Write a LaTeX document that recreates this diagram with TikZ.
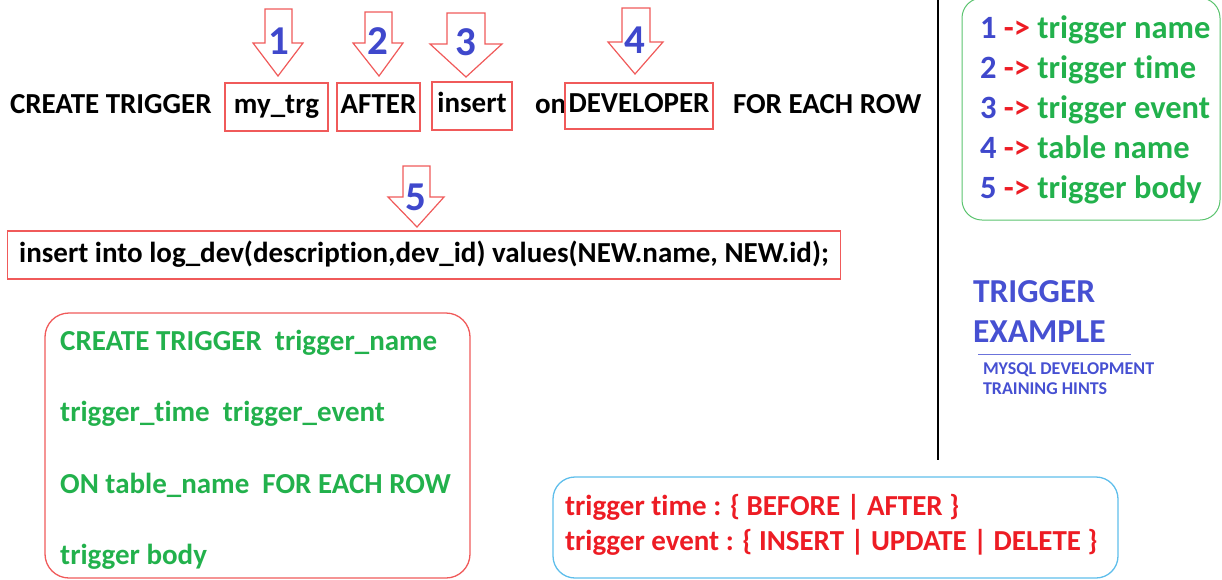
\documentclass[tikz,border=0pt]{standalone}
\usepackage{fontspec}
\setmainfont[Ligatures=NoCommon]{Carlito}
\definecolor{numblue}{RGB}{63,72,204}
\definecolor{hintred}{RGB}{237,28,36}
\definecolor{hintgreen}{RGB}{34,177,76}
\definecolor{boxred}{RGB}{240,90,90}
\definecolor{boxblue}{RGB}{95,190,235}
\definecolor{boxgreen}{RGB}{90,195,110}
\definecolor{titleblue}{RGB}{70,80,210}
\begin{document}
\begin{tikzpicture}[x=1pt,y=-1pt,
  every node/.style={inner sep=0pt,outer sep=0pt,font=\fontsize{29}{34}\selectfont\bfseries},
  plain/.style={anchor=base west},
  keybox/.style={draw=boxred,line width=1.3pt,text height=17pt,text depth=5pt,minimum height=48pt},
  pointer/.style={draw=boxred,fill=white,line width=1.2pt,line join=miter},
  num/.style={text=numblue,font=\fontsize{41}{44}\selectfont\bfseries},
  roundbox/.style={rounded corners=24pt,line width=1.3pt},
  legend/.style={anchor=base west,font=\fontsize{29}{34}\selectfont\bfseries},
  keylegend/.style={anchor=base west,font=\fontsize{32.5}{36}\selectfont\bfseries},
  title/.style={anchor=base west,text=titleblue,font=\fontsize{33.5}{38}\selectfont\bfseries},
  subtitle/.style={anchor=base west,text=titleblue,font=\fontsize{18}{21}\selectfont\bfseries}
]
\useasboundingbox (0,0) rectangle (1222,579);

% ---- statement header ----
\node[plain] (create) at (10,113) {CREATE TRIGGER};
\node[keybox,minimum width=103pt] (name)  at (276.5,107) {my\_trg};
\node[keybox,minimum width=83pt]  (time)  at (378.5,107) {AFTER};
\node[keybox,minimum width=80pt]  (event) at (472,106) {insert};
\node[plain] (on) at (535,113) {on};
\node[keybox,minimum width=148pt,minimum height=46pt] (table) at (639,106) {DEVELOPER};
\node[plain] (each) at (733,113) {FOR EACH ROW};

% ---- numbered pointers ----
\draw[pointer] (265,9) -- (292,9) -- (292,43) -- (303,43) -- (278,76) -- (253,43) -- (265,43) -- cycle;
\node[num] (n1) at (279,41) {1};
\draw[pointer] (365,12) -- (392,12) -- (392,43) -- (403,43) -- (379,76) -- (353,43) -- (365,43) -- cycle;
\node[num] (n2) at (378,41) {2};
\draw[pointer] (447,13) -- (485,13) -- (485,44) -- (502,44) -- (466,77) -- (430,44) -- (447,44) -- cycle;
\node[num] (n3) at (466,42) {3};
\draw[pointer] (622,8) -- (650,8) -- (650,42) -- (663,42) -- (635,74) -- (608,42) -- (622,42) -- cycle;
\node[num] (n4) at (635,40) {4};

% ---- trigger body ----
\node[keybox,minimum width=833pt,minimum height=48pt,text height=20pt,text depth=6pt] (body) at (424,255) {insert into log\_dev(description,dev\_id) values(NEW.name, NEW.id);};
\draw[pointer] (403,166) -- (430,166) -- (430,197) -- (444,197) -- (417,227) -- (388,197) -- (403,197) -- cycle;
\node[num] (n5) at (416,197) {5};

% ---- syntax template ----
\draw[roundbox,draw=boxred] (45,313) rectangle (470,578);
\begin{scope}[every node/.style={anchor=base west,inner sep=0pt,text=hintgreen,font=\fontsize{29}{34}\selectfont\bfseries}]
\node (s1) at (60,350) {CREATE TRIGGER\ \ trigger\_name};
\node (s2) at (60,421) {trigger\_time\ \ trigger\_event};
\node (s3) at (60,493) {ON table\_name\ \ FOR EACH ROW};
\node (s4) at (60,564) {trigger body};
\end{scope}

% ---- allowed values ----
\draw[roundbox,draw=boxblue,rounded corners=22pt] (553,477) rectangle (1118,578);
\node[legend,text=hintred] (v1) at (565,515) {trigger time : \{ BEFORE | AFTER \}};
\node[legend,text=hintred] (v2) at (565,550) {trigger event : \{ INSERT | UPDATE | DELETE \}};

% ---- divider ----
\draw[line width=1.3pt] (938,0) -- (938,460);

% ---- legend ----
\draw[roundbox,draw=boxgreen,rounded corners=20pt,line width=1pt] (962,-2) rectangle (1220,220);
\node[keylegend] (l1) at (980,38)  {\textcolor{numblue}{1} \textcolor{hintred}{->} \textcolor{hintgreen}{trigger name}};
\node[keylegend] (l2) at (980,78)  {\textcolor{numblue}{2} \textcolor{hintred}{->} \textcolor{hintgreen}{trigger time}};
\node[keylegend] (l3) at (980,118) {\textcolor{numblue}{3} \textcolor{hintred}{->} \textcolor{hintgreen}{trigger event}};
\node[keylegend] (l4) at (980,158) {\textcolor{numblue}{4} \textcolor{hintred}{->} \textcolor{hintgreen}{table name}};
\node[keylegend] (l5) at (980,198) {\textcolor{numblue}{5} \textcolor{hintred}{->} \textcolor{hintgreen}{trigger body}};

% ---- title ----
\node[title] (t1) at (973,302) {TRIGGER};
\node[title] (t2) at (973,342) {EXAMPLE};
\draw[titleblue!80,line width=1pt] (978,354) -- (1131,354);
\node[subtitle] (t3) at (983,374) {MYSQL DEVELOPMENT};
\node[subtitle] (t4) at (983,394) {TRAINING HINTS};
\end{tikzpicture}
\end{document}
